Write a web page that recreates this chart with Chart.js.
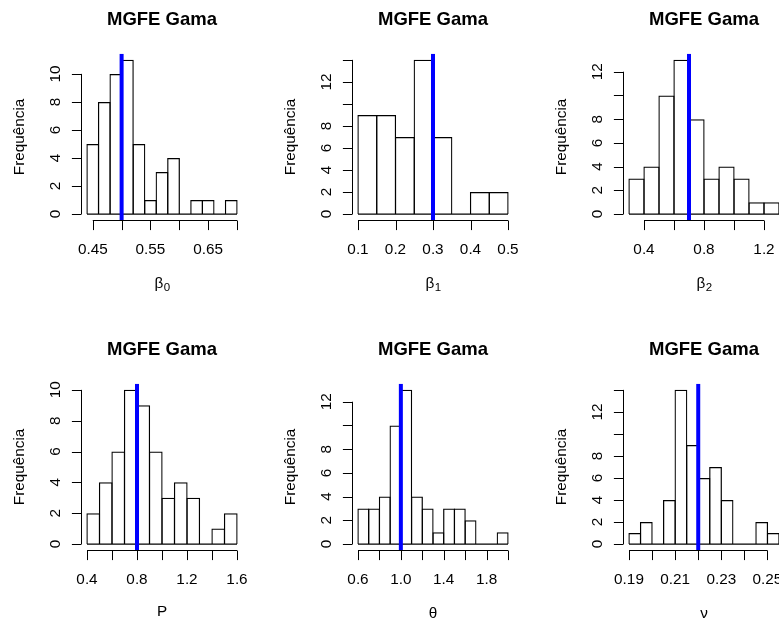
<!DOCTYPE html>
<html>
<head>
<meta charset="utf-8">
<script src="https://cdn.jsdelivr.net/npm/chart.js@4.4.1/dist/chart.umd.min.js"></script>
<style>
    html, body { margin: 0; padding: 0; background: #fff; overflow: hidden; }
    #grade { position: relative; width: 779px; height: 622px; overflow: hidden; background: #fff; }
    #grade canvas { position: absolute; }
</style>
</head>
<body>
<div id="grade"></div>
<script>
// Histogramas das estimativas MGFE (50 réplicas) para cada parâmetro
var beta0Breaks = [0.44, 0.46, 0.48, 0.50, 0.52, 0.54, 0.56, 0.58, 0.60, 0.62, 0.64, 0.66, 0.68, 0.70];
var beta0Counts = [5, 8, 10, 11, 5, 1, 3, 4, 0, 1, 1, 0, 1];
var beta0XTicks = [0.45, 0.50, 0.55, 0.60, 0.65, 0.70];
var beta0XLabels = ['0.45', '', '0.55', '', '0.65', ''];
var beta0YTicks = [0, 2, 4, 6, 8, 10];
var beta0YLabels = ['0', '2', '4', '6', '8', '10'];

var beta1Breaks = [0.10, 0.15, 0.20, 0.25, 0.30, 0.35, 0.40, 0.45, 0.50];
var beta1Counts = [9, 9, 7, 14, 7, 0, 2, 2];
var beta1XTicks = [0.1, 0.2, 0.3, 0.4, 0.5];
var beta1XLabels = ['0.1', '0.2', '0.3', '0.4', '0.5'];
var beta1YTicks = [0, 2, 4, 6, 8, 10, 12, 14];
var beta1YLabels = ['0', '2', '4', '6', '8', '', '12', ''];

var beta2Breaks = [0.3, 0.4, 0.5, 0.6, 0.7, 0.8, 0.9, 1.0, 1.1, 1.2, 1.3];
var beta2Counts = [3, 4, 10, 13, 8, 3, 4, 3, 1, 1];
var beta2XTicks = [0.4, 0.6, 0.8, 1.0, 1.2];
var beta2XLabels = ['0.4', '', '0.8', '', '1.2'];
var beta2YTicks = [0, 2, 4, 6, 8, 10, 12];
var beta2YLabels = ['0', '2', '4', '6', '8', '', '12'];

var pBreaks = [0.4, 0.5, 0.6, 0.7, 0.8, 0.9, 1.0, 1.1, 1.2, 1.3, 1.4, 1.5, 1.6];
var pCounts = [2, 4, 6, 10, 9, 6, 3, 4, 3, 0, 1, 2];
var pXTicks = [0.4, 0.6, 0.8, 1.0, 1.2, 1.4, 1.6];
var pXLabels = ['0.4', '', '0.8', '', '1.2', '', '1.6'];
var pYTicks = [0, 2, 4, 6, 8, 10];
var pYLabels = ['0', '2', '4', '6', '8', '10'];

var thetaBreaks = [0.6, 0.7, 0.8, 0.9, 1.0, 1.1, 1.2, 1.3, 1.4, 1.5, 1.6, 1.7, 1.8, 1.9, 2.0];
var thetaCounts = [3, 3, 4, 10, 13, 4, 3, 1, 3, 3, 2, 0, 0, 1];
var thetaXTicks = [0.6, 0.8, 1.0, 1.2, 1.4, 1.6, 1.8, 2.0];
var thetaXLabels = ['0.6', '', '1.0', '', '1.4', '', '1.8', ''];
var thetaYTicks = [0, 2, 4, 6, 8, 10, 12];
var thetaYLabels = ['0', '2', '4', '6', '8', '', '12'];

var nuBreaks = [0.190, 0.195, 0.200, 0.205, 0.210, 0.215, 0.220, 0.225, 0.230, 0.235, 0.240, 0.245, 0.250, 0.255];
var nuCounts = [1, 2, 0, 4, 14, 9, 6, 7, 4, 0, 0, 2, 1];
var nuXTicks = [0.19, 0.20, 0.21, 0.22, 0.23, 0.24, 0.25];
var nuXLabels = ['0.19', '', '0.21', '', '0.23', '', '0.25'];
var nuYTicks = [0, 2, 4, 6, 8, 10, 12, 14];
var nuYLabels = ['0', '2', '4', '6', '8', '', '12', ''];

// valores verdadeiros (linha azul)
var trueValues = [0.5, 0.3, 0.7, 0.8, 1.0, 0.22];
var xNames = [['β', '0'], ['β', '1'], ['β', '2'], ['P', ''], ['θ', ''], ['ν', '']];

var PANEL_W = 271, PANEL_H = 330;
var PLOT = { left: 81, top: 53.7, width: 162, height: 166.5 };
var TICK = 9.6;
var LW = 1.25;
var SANS = '"Liberation Sans", Arial, Helvetica, sans-serif';

var panels = [
    { breaks: beta0Breaks, counts: beta0Counts, xTicks: beta0XTicks, xLabels: beta0XLabels, yTicks: beta0YTicks, yLabels: beta0YLabels },
    { breaks: beta1Breaks, counts: beta1Counts, xTicks: beta1XTicks, xLabels: beta1XLabels, yTicks: beta1YTicks, yLabels: beta1YLabels },
    { breaks: beta2Breaks, counts: beta2Counts, xTicks: beta2XTicks, xLabels: beta2XLabels, yTicks: beta2YTicks, yLabels: beta2YLabels },
    { breaks: pBreaks, counts: pCounts, xTicks: pXTicks, xLabels: pXLabels, yTicks: pYTicks, yLabels: pYLabels },
    { breaks: thetaBreaks, counts: thetaCounts, xTicks: thetaXTicks, xLabels: thetaXLabels, yTicks: thetaYTicks, yLabels: thetaYLabels },
    { breaks: nuBreaks, counts: nuCounts, xTicks: nuXTicks, xLabels: nuXLabels, yTicks: nuYTicks, yLabels: nuYLabels }
];

// eixos, títulos e rótulos no estilo do R base
var eixosR = {
    id: 'eixosR',
    afterDraw: function (chart) {
        var o = chart.options.plugins.eixosR;
        var ctx = chart.ctx, area = chart.chartArea;
        var sx = chart.scales.x, sy = chart.scales.y;
        var cx = (area.left + area.right) / 2;
        var i, px;

        ctx.save();
        ctx.fillStyle = '#000';
        ctx.strokeStyle = '#000';
        ctx.lineWidth = 1;

        ctx.font = 'bold 18.5px ' + SANS;
        ctx.textAlign = 'center';
        ctx.textBaseline = 'alphabetic';
        ctx.fillText('MGFE Gama', cx, area.top - 29);

        // eixo x
        var yb = Math.round(area.bottom) + 0.5;
        ctx.beginPath();
        ctx.moveTo(sx.getPixelForValue(o.xTicks[0]), yb);
        ctx.lineTo(sx.getPixelForValue(o.xTicks[o.xTicks.length - 1]), yb);
        for (i = 0; i < o.xTicks.length; i++) {
            px = Math.round(sx.getPixelForValue(o.xTicks[i])) + 0.5;
            ctx.moveTo(px, yb);
            ctx.lineTo(px, yb + TICK);
        }
        ctx.stroke();
        ctx.font = '15.3px ' + SANS;
        for (i = 0; i < o.xTicks.length; i++) {
            if (o.xLabels[i]) ctx.fillText(o.xLabels[i], sx.getPixelForValue(o.xTicks[i]), area.bottom + 34);
        }

        // eixo y
        var xl = Math.round(area.left) + 0.5;
        ctx.beginPath();
        ctx.moveTo(xl, sy.getPixelForValue(o.yTicks[0]));
        ctx.lineTo(xl, sy.getPixelForValue(o.yTicks[o.yTicks.length - 1]));
        for (i = 0; i < o.yTicks.length; i++) {
            px = Math.round(sy.getPixelForValue(o.yTicks[i])) + 0.5;
            ctx.moveTo(xl, px);
            ctx.lineTo(xl - TICK, px);
        }
        ctx.stroke();
        for (i = 0; i < o.yTicks.length; i++) {
            if (!o.yLabels[i]) continue;
            ctx.save();
            ctx.translate(area.left - 21, sy.getPixelForValue(o.yTicks[i]));
            ctx.rotate(-Math.PI / 2);
            ctx.fillText(o.yLabels[i], 0, 0);
            ctx.restore();
        }
        ctx.save();
        ctx.translate(area.left - 57, (area.top + area.bottom) / 2);
        ctx.rotate(-Math.PI / 2);
        ctx.fillText('Frequência', 0, 0);
        ctx.restore();

        // nome do parâmetro, com índice quando houver
        var nome = o.xName[0], sub = o.xName[1];
        var fMain = '15.3px ' + SANS;
        var fSub = '11.5px ' + SANS;
        ctx.font = fMain;
        var w1 = ctx.measureText(nome).width;
        ctx.font = fSub;
        var w2 = sub ? ctx.measureText(sub).width : 0;
        var x0 = cx - (w1 + w2) / 2;
        var base = area.bottom + (nome === 'P' ? 66 : 68);
        ctx.textAlign = 'left';
        ctx.font = fMain;
        ctx.fillText(nome, x0, base);
        if (sub) {
            ctx.font = fSub;
            ctx.fillText(sub, x0 + w1 + 0.5, base + 3);
        }
        ctx.restore();
    }
};

var grade = document.getElementById('grade');

panels.forEach(function (pn, k) {
    var canvas = document.createElement('canvas');
    canvas.width = PANEL_W;
    canvas.height = PANEL_H;
    canvas.style.left = (k % 3) * PANEL_W + 'px';
    canvas.style.top = Math.floor(k / 3) * PANEL_H + 'px';
    grade.appendChild(canvas);

    var lo = pn.breaks[0], hi = pn.breaks[pn.breaks.length - 1];
    var xMin = lo - 0.04 * (hi - lo), xMax = hi + 0.04 * (hi - lo);
    var top = Math.max.apply(null, pn.counts);
    var yMin = -0.04 * top, yMax = 1.04 * top;
    var binPx = PLOT.width * (pn.breaks[1] - pn.breaks[0]) / (xMax - xMin);

    var bars = pn.counts.map(function (c, i) {
        return { x: (pn.breaks[i] + pn.breaks[i + 1]) / 2, y: c };
    });

    new Chart(canvas.getContext('2d'), {
        type: 'bar',
        data: {
            datasets: [{
                type: 'line',
                data: [{ x: trueValues[k], y: yMin }, { x: trueValues[k], y: yMax }],
                borderColor: '#0000ff',
                borderWidth: 4,
                pointRadius: 0,
                order: 0
            }, {
                type: 'line',
                data: [{ x: lo, y: 0 }, { x: hi, y: 0 }],
                borderColor: '#000',
                borderWidth: LW,
                pointRadius: 0,
                order: 1
            }, {
                type: 'bar',
                data: bars,
                backgroundColor: 'rgba(255,255,255,0)',
                borderColor: '#000',
                borderWidth: LW,
                barThickness: binPx + LW,
                inflateAmount: 0,
                order: 2
            }]
        },
        options: {
            responsive: false,
            animation: false,
            devicePixelRatio: 1,
            events: [],
            layout: {
                padding: {
                    left: PLOT.left,
                    top: PLOT.top,
                    right: PANEL_W - PLOT.left - PLOT.width,
                    bottom: PANEL_H - PLOT.top - PLOT.height
                }
            },
            scales: {
                x: { type: 'linear', min: xMin, max: xMax, offset: false, display: false },
                y: { type: 'linear', min: yMin, max: yMax, display: false }
            },
            plugins: {
                legend: { display: false },
                tooltip: { enabled: false },
                eixosR: {
                    xTicks: pn.xTicks, xLabels: pn.xLabels,
                    yTicks: pn.yTicks, yLabels: pn.yLabels,
                    xName: xNames[k]
                }
            }
        },
        plugins: [eixosR]
    });
});
</script>
</body>
</html>
